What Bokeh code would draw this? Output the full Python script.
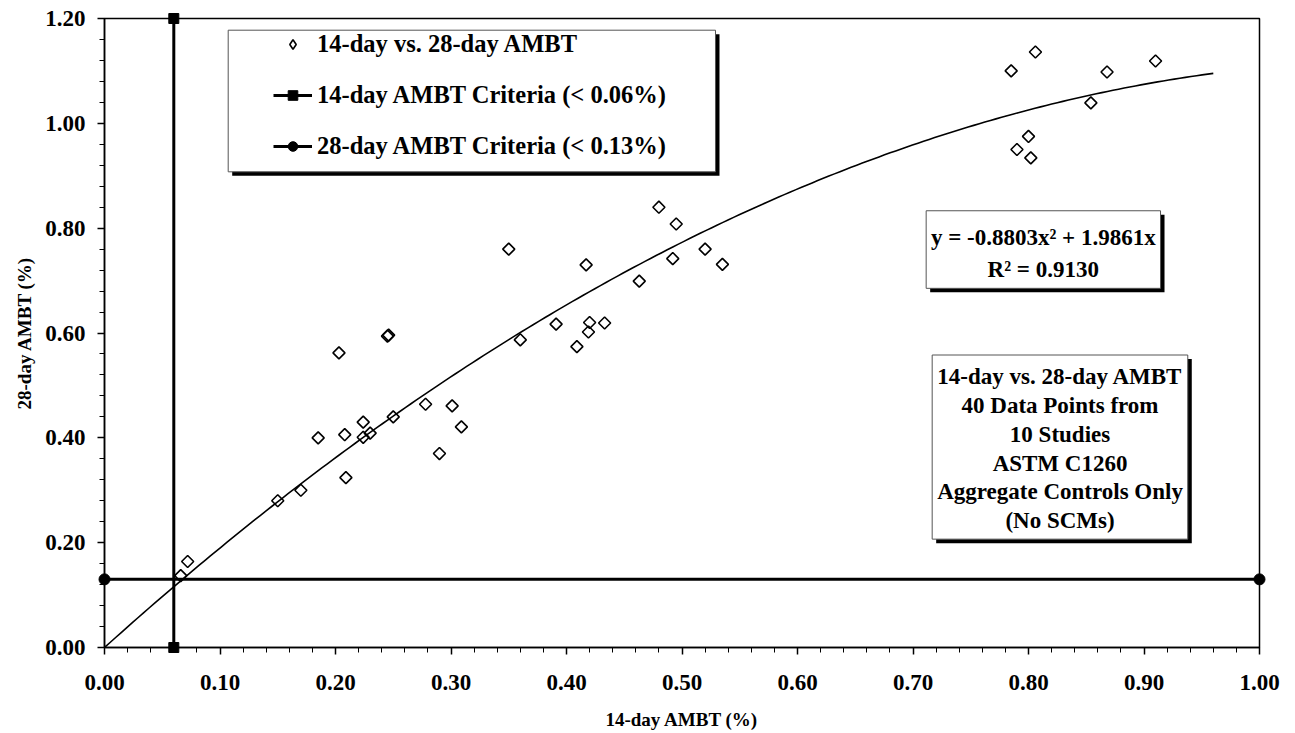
import numpy as np
from bokeh.plotting import figure
from bokeh.models import (FixedTicker, NumeralTickFormatter, Legend, LegendItem,
                          Label, Range1d)
from bokeh.embed import file_html
from bokeh.resources import INLINE

# ---------------- data ----------------
amb14 = [0.066, 0.072, 0.150, 0.170, 0.185, 0.203, 0.208, 0.209, 0.224, 0.224,
         0.230, 0.245, 0.246, 0.250, 0.278, 0.290, 0.301, 0.309, 0.350, 0.360,
         0.391, 0.409, 0.417, 0.419, 0.420, 0.433, 0.463, 0.480, 0.492, 0.495,
         0.520, 0.535, 0.785, 0.790, 0.800, 0.802, 0.806, 0.854, 0.868, 0.910]
amb28 = [0.137, 0.164, 0.280, 0.300, 0.400, 0.562, 0.406, 0.324, 0.430, 0.401,
         0.409, 0.594, 0.596, 0.440, 0.464, 0.370, 0.461, 0.421, 0.760, 0.587,
         0.617, 0.574, 0.730, 0.602, 0.620, 0.619, 0.699, 0.840, 0.742, 0.808,
         0.760, 0.731, 1.100, 0.950, 0.975, 0.934, 1.136, 1.039, 1.098, 1.119]

crit14_x = [0.06, 0.06]
crit14_y = [0.00, 1.20]
crit28_x = [0.00, 1.00]
crit28_y = [0.13, 0.13]

fit_a = -0.8803
fit_b = 1.9861
fit_x_max = 0.96

x_ticks = [0.0, 0.1, 0.2, 0.3, 0.4, 0.5, 0.6, 0.7, 0.8, 0.9, 1.0]
y_ticks = [0.0, 0.2, 0.4, 0.6, 0.8, 1.0, 1.2]

legend_labels = ["14-day vs. 28-day AMBT",
                 "14-day AMBT Criteria (< 0.06%)",
                 "28-day AMBT Criteria (< 0.13%)"]
equation_lines = ["y = -0.8803x\u00b2 + 1.9861x", "R\u00b2 = 0.9130"]
note_lines = ["14-day vs. 28-day AMBT", "40 Data Points from", "10 Studies",
              "ASTM C1260", "Aggregate Controls Only", "(No SCMs)"]

x_title = "14-day AMBT (%)"
y_title = "28-day AMBT (%)"

FONT = "Liberation Serif"

# ---------------- figure ----------------
p = figure(frame_width=1155, frame_height=629,
           x_range=Range1d(0, 1.0), y_range=Range1d(0, 1.2),
           output_backend="svg", toolbar_location=None,
           min_border_left=104, min_border_right=36,
           min_border_top=18, min_border_bottom=86,
           background_fill_color="white", border_fill_color="white")
p.outline_line_color = "black"
p.outline_line_width = 1.5
p.grid.visible = False

# boxes (shadow + white box)
px_x = 1.0 / 1155.0
px_y = 1.2 / 629.0
boxes = [
    (0.1071, 0.5290, 1.1777, 0.9075),   # legend box
    (0.7114, 0.9143, 0.8332, 0.6852),   # equation box
    (0.7166, 0.9379, 0.5580, 0.2067),   # notes box
]
for (l, r, t, b) in boxes:
    p.quad(left=[l + 4 * px_x], right=[r + 4 * px_x], top=[t - 4 * px_y], bottom=[b - 4 * px_y],
           fill_color="black", line_color=None)
    p.quad(left=[l], right=[r], top=[t], bottom=[b],
           fill_color="white", line_color="#555555", line_width=1)

# trendline from displayed coefficients
fit_x = np.linspace(0, fit_x_max, 200)
fit_y = fit_a * fit_x ** 2 + fit_b * fit_x
p.line(fit_x, fit_y, line_color="black", line_width=1.6)

# criteria lines
l14 = p.line(crit14_x, crit14_y, line_color="black", line_width=3)
m14 = p.scatter(crit14_x, crit14_y, marker="square", size=10, fill_color="black",
                line_color="black", level="overlay")
l28 = p.line(crit28_x, crit28_y, line_color="black", line_width=3)
m28 = p.scatter(crit28_x, crit28_y, marker="circle", size=11, fill_color="black",
                line_color="black", level="overlay")

# data points (open diamonds)
pts = p.scatter(amb14, amb28, marker="square", angle=np.pi / 4, size=8.5,
                fill_color="white", fill_alpha=0, line_color="black", line_width=1.6)
# legend-only swatch for the diamond symbol (NaN point, not drawn in the plot)
pts_key = p.scatter([float("nan")], [float("nan")], marker="diamond", size=14,
                    fill_color="white", line_color="black", line_width=1.6)

# axes
p.xaxis.ticker = FixedTicker(ticks=x_ticks,
                             minor_ticks=[round(i * 0.02, 2) for i in range(51)])
p.yaxis.ticker = FixedTicker(ticks=y_ticks,
                             minor_ticks=[round(i * 0.04, 2) for i in range(31)])
p.xaxis.axis_label = x_title
p.yaxis.axis_label = y_title
for ax in (p.xaxis[0], p.yaxis[0]):
    ax.formatter = NumeralTickFormatter(format="0.00")
    ax.axis_line_color = "black"
    ax.axis_line_width = 1.5
    ax.major_tick_line_color = "black"
    ax.major_tick_line_width = 1.5
    ax.major_tick_out = 7
    ax.major_tick_in = 0
    ax.minor_tick_line_color = "black"
    ax.minor_tick_line_width = 1
    ax.minor_tick_out = 5
    ax.minor_tick_in = 0
    ax.major_label_text_font = FONT
    ax.major_label_text_font_style = "bold"
    ax.major_label_text_font_size = "23px"
    ax.major_label_text_color = "black"
    ax.axis_label_text_font = FONT
    ax.axis_label_text_font_style = "bold"
    ax.axis_label_text_font_size = "19px"
    ax.axis_label_text_color = "black"
p.xaxis.major_label_standoff = 20
p.yaxis.major_label_standoff = 12
p.xaxis.axis_label_standoff = 16
p.yaxis.axis_label_standoff = 7

# legend
legend = Legend(items=[LegendItem(label=legend_labels[0], renderers=[pts_key]),
                       LegendItem(label=legend_labels[1], renderers=[l14, m14]),
                       LegendItem(label=legend_labels[2], renderers=[l28, m28])],
                location=(169, 487), padding=0, margin=0, spacing=23,
                glyph_width=39, glyph_height=24, label_height=24,
                label_standoff=5,
                label_text_font=FONT, label_text_font_style="bold",
                label_text_font_size="24.5px", label_text_color="black",
                border_line_alpha=0, background_fill_alpha=0)
p.add_layout(legend)

# equation labels
for k, txt in enumerate(equation_lines):
    p.add_layout(Label(x=0.8128, y=0.752, text=txt, y_offset=(0.5 - k) * 32,
                       text_align="center", text_baseline="middle",
                       text_font=FONT, text_font_style="bold",
                       text_font_size="23px", text_color="black"))

# notes labels
for k, txt in enumerate(note_lines):
    p.add_layout(Label(x=0.8273, y=0.3794, text=txt, y_offset=(2.5 - k) * 28.8,
                       text_align="center", text_baseline="middle",
                       text_font=FONT, text_font_style="bold",
                       text_font_size="23px", text_color="black"))

open("out.html", "w").write(file_html(p, INLINE))
